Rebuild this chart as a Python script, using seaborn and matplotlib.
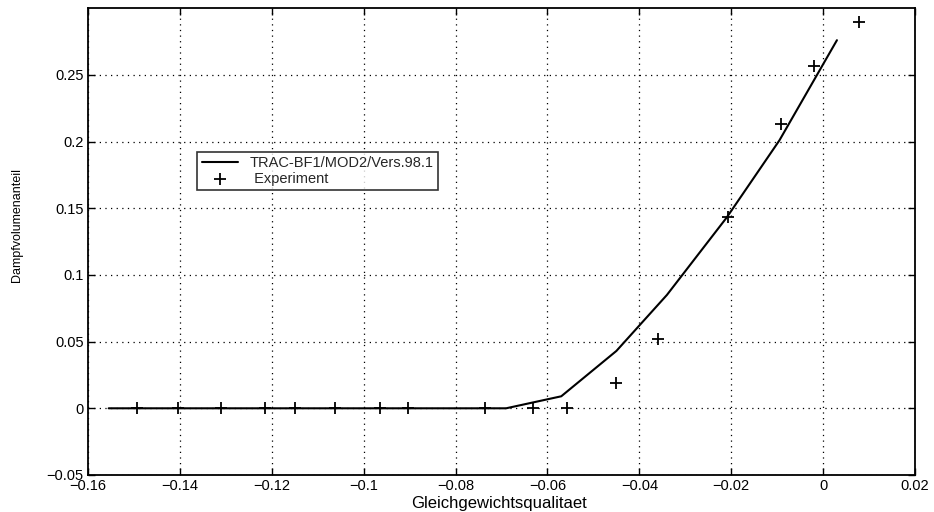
import matplotlib
matplotlib.use("Agg")
import matplotlib.pyplot as plt
from matplotlib import font_manager
import seaborn as sns
import pandas as pd

# Simulation line (TRAC-BF1)
sim_x = [-0.1555, -0.069, -0.057, -0.045, -0.034, -0.021, -0.0095, 0.003]
sim_y = [0.0, 0.0, 0.009, 0.043, 0.085, 0.143, 0.201, 0.276]

# Experiment points
exp_x = [-0.1493, -0.1405, -0.1311, -0.1214, -0.1149, -0.1062, -0.0965, -0.0904,
         -0.0735, -0.0631, -0.0558, -0.0451, -0.0359, -0.0208, -0.0092, -0.0019, 0.0078]
exp_y = [0.0, 0.0, 0.0, 0.0, 0.0, 0.0, 0.0, 0.0,
         0.0, 0.0, 0.0, 0.0193, 0.0516, 0.1432, 0.2132, 0.257, 0.2896]

x_ticks = [-0.16, -0.14, -0.12, -0.1, -0.08, -0.06, -0.04, -0.02, 0, 0.02]
x_ticklabels = ["\u22120.16", "\u22120.14", "\u22120.12", "\u22120.1", "\u22120.08",
                "\u22120.06", "\u22120.04", "\u22120.02", "0", "0.02"]
y_ticks = [-0.05, 0, 0.05, 0.1, 0.15, 0.2, 0.25]
y_ticklabels = ["\u22120.05", "0", "0.05", "0.1", "0.15", "0.2", "0.25"]

sns.set_theme(style="white")
plt.rcParams['font.family'] = ['Liberation Sans', 'DejaVu Sans']

installed = {f.name for f in font_manager.fontManager.ttflist}
narrow = 'Liberation Sans Narrow' if 'Liberation Sans Narrow' in installed else 'Liberation Sans'

fig = plt.figure(figsize=(9.34, 5.12), dpi=100)
ax = fig.add_axes([0.0942, 0.0723, 0.8855, 0.9117])

sim_df = pd.DataFrame({"x": sim_x, "y": sim_y})
exp_df = pd.DataFrame({"x": exp_x, "y": exp_y})

sns.lineplot(data=sim_df, x="x", y="y", ax=ax, color="black", linewidth=1.5,
             label="TRAC-BF1/MOD2/Vers.98.1", sort=False, estimator=None)
sns.scatterplot(data=exp_df, x="x", y="y", ax=ax, marker="+", color="black",
                s=80, linewidth=1.3, label=" Experiment")

ax.set_xlim(-0.16, 0.02)
ax.set_ylim(-0.05, 0.3)
ax.set_xticks(x_ticks)
ax.set_xticklabels(x_ticklabels)
ax.set_yticks(y_ticks)
ax.set_yticklabels(y_ticklabels)
ax.tick_params(direction="in", length=5, width=1, top=True, right=True,
               bottom=True, left=True, labelsize=10.5, colors="black", pad=3)
ax.grid(True, linestyle=(0, (1, 3.5)), color="black", linewidth=0.9)
for sp in ax.spines.values():
    sp.set_color("black")
    sp.set_linewidth(1.3)

ax.set_xlabel("Gleichgewichtsqualitaet", family=['Liberation Sans', 'DejaVu Sans'],
              fontsize=12, color="black")
ax.xaxis.set_label_coords(0.497, -0.045)
ax.set_ylabel("Dampfvolumenanteil", family=[narrow, 'DejaVu Sans'],
              fontsize=9, color="black")
ax.yaxis.set_label_coords(-0.079, 0.535)

leg = ax.legend(loc="upper left", bbox_to_anchor=(0.132, 0.692), borderaxespad=0,
                frameon=True, fancybox=False, fontsize=10.5, handlelength=2.5,
                borderpad=0.3, labelspacing=0.1, handletextpad=0.8)
leg.get_frame().set_edgecolor("black")
leg.get_frame().set_linewidth(1.2)

fig.savefig("out.png", dpi=100)
